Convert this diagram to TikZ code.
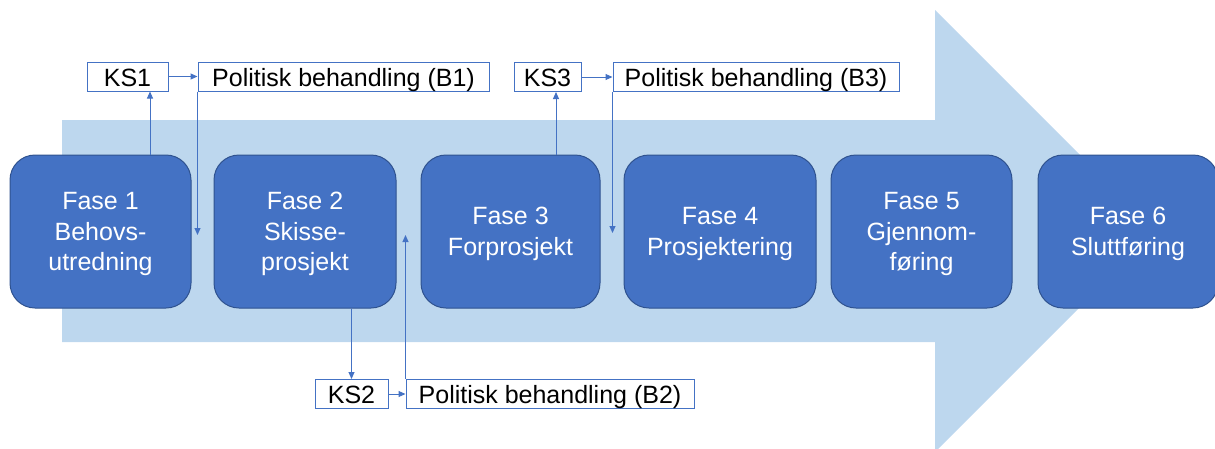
\documentclass[tikz,border=0pt]{standalone}
\usepackage{fontspec}
\setmainfont{Liberation Sans}
\usetikzlibrary{arrows.meta}
\definecolor{fasefill}{HTML}{4472C4}
\definecolor{faseline}{HTML}{2F528F}
\definecolor{pilfill}{HTML}{BDD7EE}

\begin{document}
\begin{tikzpicture}[
  x=1pt, y=-1pt,
  font=\fontsize{25}{30.5}\selectfont,
  fase/.style={draw=faseline,line width=1pt,fill=fasefill,text=white,rounded corners=25pt,minimum height=153pt,minimum width=181pt,align=center,text depth=0pt,inner sep=0pt},
  ks/.style={draw=fasefill,line width=1pt,fill=white,minimum height=29pt,text height=22pt,text depth=3pt,inner sep=0pt},
  conn/.style={draw=fasefill,line width=1pt,-{Triangle[length=7pt,width=6pt]}}
]
  \useasboundingbox (0,0) rectangle (1215,448);
  \fill[pilfill] (62,120) -- (935,120) -- (935,10) -- (1156,231) -- (935,452) -- (935,342) -- (62,342) -- cycle;

  \node[fase] (f1) at (100.5,231.5) {Fase 1\\Behovs-\\utredning};
  \node[fase,minimum width=182pt] (f2) at (305,231.5) {Fase 2\\Skisse-\\prosjekt};
  \node[fase,minimum width=179pt] (f3) at (510.5,231.5) {Fase 3\\Forprosjekt};
  \node[fase,minimum width=192pt] (f4) at (720,231.5) {Fase 4\\Prosjektering};
  \node[fase] (f5) at (921.5,231.5) {Fase 5\\Gjennom-\\føring};
  \node[fase,minimum width=180pt] (f6) at (1128,231.5) {Fase 6\\Sluttføring};

  \node[ks,minimum width=81pt] (ks1) at (127.5,76.5) {KS1};
  \node[ks,minimum width=291pt] (b1) at (343.5,76.5) {Politisk behandling (B1)};
  \node[ks,minimum width=73pt] (ks2) at (351.5,394) {KS2};
  \node[ks,minimum width=288pt] (b2) at (550,394) {Politisk behandling (B2)};
  \node[ks,minimum width=67pt] (ks3) at (547.5,77) {KS3};
  \node[ks,minimum width=286pt] (b3) at (756,77) {Politisk behandling (B3)};

  \draw[conn] (f1.north -| 150,0) -- (ks1.south -| 150,0);
  \draw[conn] (ks1) -- (b1);
  \draw[conn] (b1.south west) -- (b1.south west |- 0,235);
  \draw[conn] (f2.south -| ks2) -- (ks2);
  \draw[conn] (ks2) -- (b2);
  \draw[conn] (b2.north west) -- (b2.north west |- 0,235);
  \draw[conn] (f3.north -| 556,0) -- (ks3.south -| 556,0);
  \draw[conn] (ks3) -- (b3);
  \draw[conn] (b3.south west) -- (b3.south west |- 0,233);
\end{tikzpicture}
\end{document}
